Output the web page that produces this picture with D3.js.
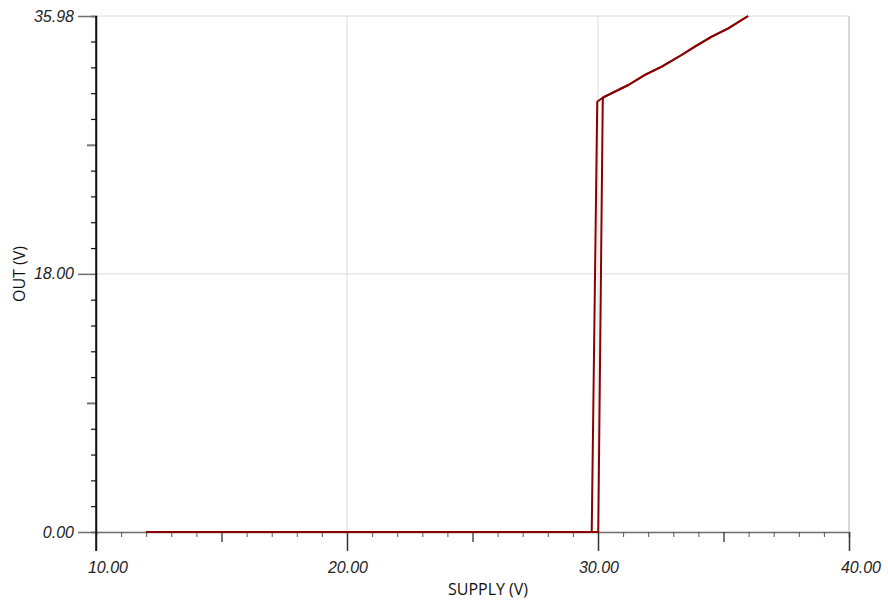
<!DOCTYPE html>
<html>
<head>
<meta charset="utf-8">
<script src="https://cdn.jsdelivr.net/npm/d3@7"></script>
<style>
  body { margin: 0; background: #fff; }
  svg { display: block; }
</style>
</head>
<body>
<svg id="chart" width="888" height="604"></svg>
<script>
// sweep up: output stays low until ~30 V, then follows supply
const supplyUp = [12.0, 30.01, 30.19, 30.21, 31.21, 31.87, 32.54, 33.33, 33.86, 34.53, 35.19, 35.98];
const outUp    = [0.0,  0.0,   30.12, 30.31, 31.17, 31.87, 32.45, 33.26, 33.84, 34.54, 35.12, 35.98];

// sweep down: drops back to zero a bit earlier
const supplyDown = [35.98, 35.19, 34.53, 33.86, 33.33, 32.54, 31.87, 31.21, 30.21, 29.97, 29.75, 12.0];
const outDown    = [35.98, 35.12, 34.54, 33.84, 33.26, 32.45, 31.87, 31.17, 30.31, 30.0,  0.0,   0.0];

const xMajor = [10, 20, 30, 40];
const xMedium = [15, 25, 35];
const xTickLabels = ['10.00', '20.00', '30.00', '40.00'];
const yMajor = [0, 18, 35.98];
const yMedium = [9, 27];
const yTickLabels = ['0.00', '18.00', '35.98'];

const svg = d3.select('#chart');

const x = d3.scaleLinear()
            .domain([10, 40])
            .range([96, 849]);

const y = d3.scaleLinear()
            .domain([0, 35.98])
            .range([532, 16]);

const xMinor = d3.range(11, 40).filter(d => d % 5 != 0);
const yMinor = d3.range(1.8, 35.9, 1.8).filter(d => Math.abs(d - 9) > 0.01 && Math.abs(d - 18) > 0.01 && Math.abs(d - 27) > 0.01);

// grid
const grid = svg.append('g');
grid.selectAll('line.vg')
  .data(xMajor.slice(1))
  .join('line')
  .attr('x1', d => x(d)).attr('x2', d => x(d))
  .attr('y1', y(35.98)).attr('y2', y(0))
  .attr('stroke', '#dcdcdc')
  .attr('stroke-width', 1);

grid.selectAll('line.hg')
  .data(yMajor.slice(1))
  .join('line')
  .attr('x1', x(10)).attr('x2', x(40))
  .attr('y1', d => y(d)).attr('y2', d => y(d))
  .attr('stroke', '#dcdcdc')
  .attr('stroke-width', 1);

// x axis
const xAxisMinor = svg.append('g')
  .attr('transform', `translate(0, ${y(0)})`)
  .call(d3.axisBottom(x).tickValues(xMinor).tickSize(5).tickFormat(''));
xAxisMinor.select('.domain').attr('stroke', '#6e6e6e').attr('stroke-width', 1.5);
xAxisMinor.selectAll('.tick line').attr('stroke', '#555');

svg.append('g')
  .attr('transform', `translate(0, ${y(0)})`)
  .call(d3.axisBottom(x).tickValues(xMedium).tickSize(10).tickFormat(''))
  .call(g => g.select('.domain').remove())
  .selectAll('.tick line').attr('stroke', '#222').attr('stroke-width', 1.2);

svg.append('g')
  .attr('transform', `translate(0, ${y(0)})`)
  .call(d3.axisBottom(x).tickValues(xMajor).tickSize(19).tickFormat(''))
  .call(g => g.select('.domain').remove())
  .selectAll('.tick line').attr('stroke', '#333').attr('stroke-width', 1.5);

// y axis
const yAxisMinor = svg.append('g')
  .attr('transform', `translate(${x(10)}, 0)`)
  .call(d3.axisLeft(y).tickValues(yMinor).tickSize(5).tickFormat(''));
yAxisMinor.select('.domain').attr('stroke', '#111').attr('stroke-width', 1.5);
yAxisMinor.selectAll('.tick line').attr('stroke', '#111').attr('stroke-width', 1.2);

svg.append('g')
  .attr('transform', `translate(${x(10)}, 0)`)
  .call(d3.axisLeft(y).tickValues(yMedium).tickSize(9).tickFormat(''))
  .call(g => g.select('.domain').remove())
  .selectAll('.tick line').attr('stroke', '#777').attr('stroke-width', 2);

svg.append('g')
  .attr('transform', `translate(${x(10)}, 0)`)
  .call(d3.axisLeft(y).tickValues(yMajor).tickSize(18).tickFormat(''))
  .call(g => g.select('.domain').remove())
  .selectAll('.tick line').attr('stroke', '#6e6e6e').attr('stroke-width', 1.5);

// vertical axis line runs down to the 10.00 tick
svg.append('line')
  .attr('x1', x(10)).attr('x2', x(10))
  .attr('y1', y(35.98)).attr('y2', y(0) + 19)
  .attr('stroke', '#111')
  .attr('stroke-width', 1.5);

// right border
svg.append('line')
  .attr('x1', x(40)).attr('x2', x(40))
  .attr('y1', y(35.98)).attr('y2', y(0))
  .attr('stroke', '#cfcfcf')
  .attr('stroke-width', 1.5);

// tick labels
const labelFont = '"Liberation Sans", Arial, sans-serif';
const xLabelShift = [12, 1, 1, 12];

svg.selectAll('text.xl')
  .data(xMajor)
  .join('text')
  .attr('x', (d, i) => x(d) + xLabelShift[i])
  .attr('y', 573)
  .attr('text-anchor', 'middle')
  .attr('font-family', labelFont)
  .attr('font-style', 'italic')
  .attr('font-size', 16)
  .attr('fill', '#222')
  .text((d, i) => xTickLabels[i]);

svg.selectAll('text.yl')
  .data(yMajor)
  .join('text')
  .attr('x', 74)
  .attr('y', d => y(d))
  .attr('dy', '0.35em')
  .attr('text-anchor', 'end')
  .attr('font-family', labelFont)
  .attr('font-style', 'italic')
  .attr('font-size', 16)
  .attr('fill', '#222')
  .text((d, i) => yTickLabels[i]);

// axis titles
svg.append('text')
  .attr('x', 488)
  .attr('y', 595)
  .attr('text-anchor', 'middle')
  .attr('font-family', '"Open Sans", "Noto Sans", sans-serif')
  .attr('font-size', 16)
  .attr('fill', '#111')
  .text('SUPPLY (V)');

svg.append('text')
  .attr('transform', 'translate(25, 274) rotate(-90)')
  .attr('text-anchor', 'middle')
  .attr('font-family', '"Open Sans", "Noto Sans", sans-serif')
  .attr('font-size', 16)
  .attr('fill', '#111')
  .text('OUT (V)');

// curves
const line = d3.line()
  .x(d => x(d[0]))
  .y(d => y(d[1]));

const curves = [
  d3.zip(supplyUp, outUp),
  d3.zip(supplyDown, outDown)
];

svg.selectAll('path.curve')
  .data(curves)
  .join('path')
  .attr('d', line)
  .attr('fill', 'none')
  .attr('stroke', '#8b0000')
  .attr('stroke-width', 2)
  .attr('stroke-linejoin', 'round');
</script>
</body>
</html>
